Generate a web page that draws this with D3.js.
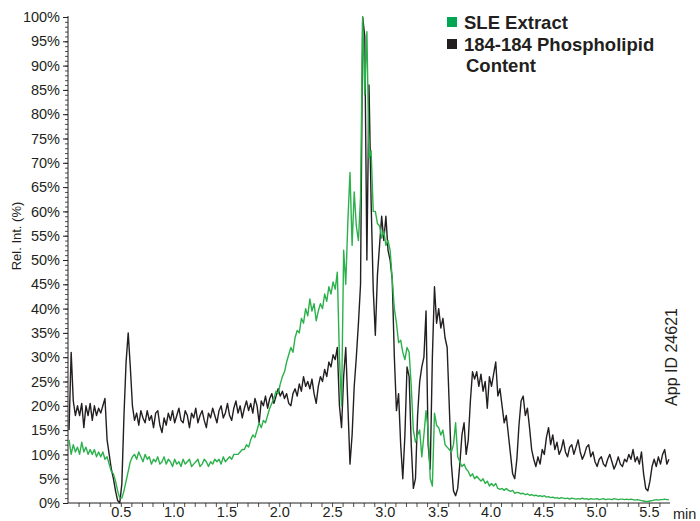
<!DOCTYPE html>
<html>
<head>
<meta charset="utf-8">
<script src="https://cdn.jsdelivr.net/npm/d3@7"></script>
<style>
  html, body { margin: 0; padding: 0; background: #fff; }
  svg { display: block; font-family: "Liberation Sans", Arial, Helvetica, sans-serif; }
</style>
</head>
<body>
<svg id="chart" width="700" height="521"></svg>
<script>
// Acquisition grid: first scan time and scan spacing (min)
const scanStart = 0.01;
const scanStep = 0.02;

// 184-184 phospholipid trace, relative intensity (%)
const phospholipid = [
  15, 31, 21, 18, 20, 18, 20.5, 15.5, 20, 18,
  20.5, 17, 20, 18, 19.5, 18.5, 20, 21.5, 13, 10,
  7, 5, 2.5, 0.5, 0, 4, 18, 29, 35, 28,
  20, 17, 18.5, 16, 19, 17.5, 16.5, 19, 17, 18,
  15.5, 18.5, 19, 16, 14.5, 17.5, 16, 18.5, 17, 19,
  16.5, 18, 19.5, 17, 16.5, 19, 18, 15.5, 18.5, 17.5,
  19.5, 16.5, 18, 19, 17, 15.5, 18.5, 17.5, 19.5, 18,
  16.5, 19, 20, 17.5, 18.5, 20.5, 18, 17, 19.5, 21,
  18.5, 20, 17.5, 19.5, 21, 19, 20.5, 18.5, 21.5, 20,
  16.5, 21, 20, 22, 19.5, 21.5, 22.5, 20.5, 22, 23.5,
  22, 23, 21.5, 22.5, 20.5, 20, 22.5, 23.5, 22, 24.5,
  23, 26, 24, 25, 23.5, 25.5, 22.5, 20.5, 24, 26,
  25, 27.5, 26, 29, 28, 30.5, 29.5, 32, 20, 15.5,
  26, 32, 20, 8, 14, 24, 30, 37, 45, 100,
  96, 50, 86, 62, 44, 34.5, 47, 53, 59, 54,
  59, 52, 50, 46, 30, 19, 22.5, 12, 5, 14,
  28, 26, 12, 3, 5, 18, 25, 28, 30, 39.5,
  12, 7, 30, 44.5, 37, 40, 36, 38, 34, 32,
  20, 8, 2.5, 1.5, 3, 8, 14, 16.5, 10, 13,
  21, 27, 25.5, 27, 24, 26.5, 23, 25, 19.5, 26,
  24, 26.5, 29, 22, 23.5, 20, 16.5, 18, 14, 10,
  6, 5, 9, 16, 21, 22, 18, 19.5, 15.5, 11,
  9, 7.5, 9.5, 8, 11, 10, 13.5, 15.5, 12, 14,
  11, 12.5, 10, 11, 13, 10.5, 9.5, 11.5, 12, 10,
  11.5, 13, 10.5, 9, 10, 11.5, 12, 9.5, 10.5, 8.5,
  7.5, 9, 9.5, 8, 7.5, 9, 10, 8.5, 7, 8,
  9.5, 8, 7.5, 9, 8.5, 10, 9, 11, 8.5, 9.5,
  8, 10.5, 6, 3, 2.5, 4.5, 7.5, 9, 7.5, 9.5,
  8, 10, 11, 8, 9
];

// SLE extract trace, relative intensity (%)
const sleExtract = [
  13, 10, 12, 10.5, 11.5, 10, 12.5, 10.5, 11.5, 10,
  11, 10, 11, 9.5, 10.5, 9.5, 10.5, 9, 9.5, 8,
  6.5, 6, 4.5, 2.5, 1, 1, 2.5, 4.5, 6.5, 8.5,
  9.5, 10, 9, 10.5, 9.5, 8.5, 10, 9, 9.5, 8,
  9, 8.5, 9.5, 8, 8.5, 9.5, 8, 9, 8.5, 7.5,
  9, 8, 8.5, 7.5, 9, 8, 8.5, 9, 7.5, 8,
  8.5, 9, 7.5, 8, 9, 8.5, 7.5, 8.5, 8, 9,
  8.5, 9, 8, 9.5, 8.5, 9, 9.5, 9, 10, 10,
  10, 10.5, 11, 11, 12, 11.5, 13, 14, 13.5, 15,
  16.5, 15.5, 17, 16.5, 18, 19.5, 20.5, 21.5, 23, 22.5,
  24.5, 26, 27, 29, 30.5, 32, 31, 34, 35.5, 35,
  38, 37, 40, 38.5, 42, 39.5, 41, 37.5, 39.5, 41,
  40, 43, 41.5, 44.5, 43, 45.5, 44, 47.5, 30, 20,
  52, 45, 58, 68, 53, 64, 57, 54, 63, 100,
  84, 97, 71, 72.5, 60, 60, 57.5, 57, 54.5, 56,
  53, 54, 52, 46, 40, 37, 33, 33.5, 31, 29.5,
  32, 31, 24, 15, 12.5, 14, 15, 9.5, 14, 19,
  15, 5, 3.5, 18.5, 16, 15.5, 14, 15, 12, 11.5,
  11, 10.5, 12, 16.5, 9.5, 8.5, 7.5, 8, 7, 6.5,
  5.5, 6, 5, 5.5, 5, 4.5, 5, 4, 4.5, 3.5,
  4, 3.5, 4, 3, 2.8, 3, 2.6, 3, 2.6, 2.4,
  2.6, 2, 2.2, 2.1, 1.9, 2, 1.7, 1.9, 1.6, 1.7,
  1.5, 1.6, 1.4, 1.5, 1.3, 1.5, 1.2, 1.3, 1.1, 1.2,
  1, 1.1, 0.9, 1.1, 1, 0.9, 1, 0.8, 1, 0.9,
  0.8, 0.9, 0.8, 1, 0.8, 0.9, 0.7, 0.9, 0.8, 0.8,
  0.9, 0.7, 0.8, 0.9, 0.7, 0.8, 0.8, 0.7, 0.9, 0.8,
  0.7, 0.8, 0.8, 0.7, 0.8, 0.7, 0.8, 0.7, 0.6, 0.7,
  0.6, 0.5, 0.4, 0.3, 0.3, 0.4, 0.5, 0.6, 0.7, 0.6,
  0.7, 0.7, 0.8, 0.7, 0.7
];

// Axis ticks and labels
const xTickLabels = [0.5, 1.0, 1.5, 2.0, 2.5, 3.0, 3.5, 4.0, 4.5, 5.0, 5.5];
const yTickLabels = [0, 5, 10, 15, 20, 25, 30, 35, 40, 45, 50, 55, 60, 65, 70, 75, 80, 85, 90, 95, 100];
const seriesNames = ["SLE Extract", "184-184 Phospholipid", "Content"];

const colGreen = "#2bb14b";
const colBlack = "#231f20";
const colText = "#231f20";

const svg = d3.select("#chart");
const plotLeft = 68, plotRight = 670, plotTop = 17, plotBottom = 503;

const x = d3.scaleLinear().domain([0, 5.7]).range([plotLeft, plotRight]);
const y = d3.scaleLinear().domain([0, 100]).range([plotBottom, plotTop]);

const scanTime = i => scanStart + i * scanStep;

// Y axis: minor ticks every 1 %, labelled ticks every 5 %
svg.append("g")
  .attr("transform", `translate(${plotLeft},0)`)
  .call(d3.axisLeft(y).tickValues(d3.range(0, 101, 1)).tickSize(3).tickFormat(""))
  .call(g => g.select(".domain").remove())
  .call(g => g.selectAll("line").attr("stroke", colText).attr("stroke-width", 0.8));

svg.append("g")
  .attr("transform", `translate(${plotLeft},0)`)
  .call(d3.axisLeft(y).tickValues(yTickLabels).tickSize(5).tickPadding(3).tickFormat(d => d + "%"))
  .call(g => g.select(".domain").attr("stroke", colText).attr("stroke-width", 1).attr("d", `M0,${plotTop - 1}V${plotBottom}`))
  .call(g => g.selectAll("line").attr("stroke", colText).attr("stroke-width", 1))
  .call(g => g.selectAll("text").attr("fill", colText).attr("font-size", 14.5)
    .attr("font-family", "'Liberation Sans', Arial, sans-serif"));

// X axis: ticks every 0.1 min, labels every 0.5 min
svg.append("g")
  .attr("transform", `translate(0,${plotBottom})`)
  .call(d3.axisBottom(x).tickValues(d3.range(1, 57).map(d => d / 10)).tickSize(4).tickFormat(""))
  .call(g => g.select(".domain").attr("stroke", colText).attr("stroke-width", 1).attr("d", `M${plotLeft},0H${plotRight}`))
  .call(g => g.selectAll("line").attr("stroke", colText).attr("stroke-width", 0.8));

svg.append("g")
  .attr("transform", `translate(0,${plotBottom})`)
  .call(d3.axisBottom(x).tickValues(xTickLabels).tickSize(0).tickPadding(4).tickFormat(d3.format(".1f")))
  .call(g => g.select(".domain").remove())
  .call(g => g.selectAll("text").attr("fill", colText).attr("font-size", 14.5)
    .attr("font-family", "'Liberation Sans', Arial, sans-serif"));

svg.append("text")
  .attr("x", 673).attr("y", 519)
  .attr("font-size", 14.5).attr("fill", colText)
  .text("min");

svg.append("text")
  .attr("transform", "translate(21,236) rotate(-90)")
  .attr("text-anchor", "middle")
  .attr("font-size", 13).attr("fill", colText)
  .text("Rel. Int. (%)");

// Traces
const line = d3.line()
  .x((d, i) => x(scanTime(i)))
  .y(d => y(d));

svg.append("path")
  .datum(phospholipid)
  .attr("fill", "none")
  .attr("stroke", colBlack)
  .attr("stroke-width", 1.4)
  .attr("stroke-linejoin", "round")
  .attr("d", line);

svg.append("path")
  .datum(sleExtract)
  .attr("fill", "none")
  .attr("stroke", colGreen)
  .attr("stroke-width", 1.4)
  .attr("stroke-linejoin", "round")
  .attr("d", line);

// Legend
const legend = svg.append("g").attr("font-weight", "bold").attr("font-size", 18.5).attr("fill", colText);
legend.append("rect").attr("x", 447).attr("y", 17).attr("width", 10).attr("height", 10).attr("fill", "#00a651");
legend.append("text").attr("x", 464).attr("y", 29).text(seriesNames[0]);
legend.append("rect").attr("x", 447).attr("y", 39).attr("width", 10).attr("height", 10).attr("fill", colBlack);
legend.append("text").attr("x", 464).attr("y", 51).text(seriesNames[1]);
legend.append("text").attr("x", 466).attr("y", 72).text(seriesNames[2]);

// Application identifier
svg.append("text")
  .attr("transform", "translate(677,357) rotate(-90)")
  .attr("text-anchor", "middle")
  .attr("font-size", 16).attr("fill", colText)
  .text("App ID 24621");
</script>
</body>
</html>
